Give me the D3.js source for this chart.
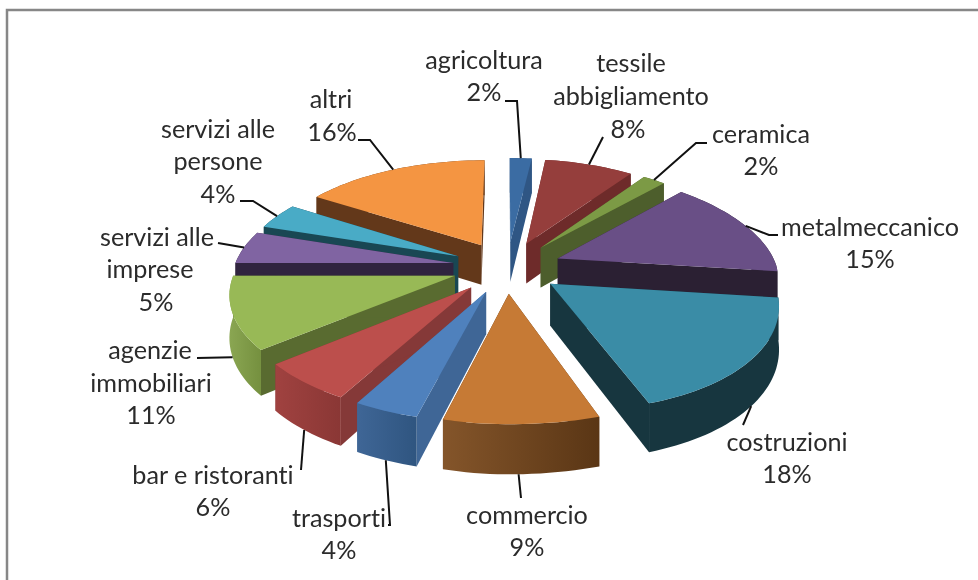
<!DOCTYPE html>
<html>
<head>
<meta charset="utf-8">
<script src="https://cdn.jsdelivr.net/npm/d3@7"></script>
<style>
  html, body { margin: 0; background: #fff; }
  svg { display: block; filter: blur(0.35px); }
  text { font-family: Lato, "Open Sans", sans-serif; font-size: 25.2px; fill: #2b2b2b; font-variant-ligatures: none; }
</style>
</head>
<body>
<div id="chart"></div>
<script>
const categories = [
  "agricoltura", "tessile abbigliamento", "ceramica", "metalmeccanico",
  "costruzioni", "commercio", "trasporti", "bar e ristoranti",
  "agenzie immobiliari", "servizi alle imprese", "servizi alle persone", "altri",
];
const values = [2, 8, 2, 15, 18, 9, 4, 6, 11, 5, 4, 16];

// top face, radial wall, outer wall left -> right
const topColors = ["#3b6ca3", "#953e3c", "#7c9a45", "#694f86", "#3a8ca6", "#c67a35",
  "#4f81bd", "#bc4f4c", "#98b956", "#8064a2", "#49abc6", "#f49542"];
const wallColors = ["#2f5684", "#6e2b2a", "#4d5e2c", "#2b2033", "#17363f", "#5f3a18",
  "#3f6696", "#853938", "#596b30", "#30243f", "#194753", "#63381a"];
const outerFrom = ["#2f5684", "#6e2b2a", "#4d5e2c", "#2b2033", "#17363f", "#84552a",
  "#3f6696", "#a04240", "#8aa652", "#30243f", "#194753", "#63381a"];
const outerTo = ["#2f5684", "#6e2b2a", "#4d5e2c", "#2b2033", "#17363f", "#5a3615",
  "#2f5580", "#8a3735", "#75903f", "#30243f", "#194753", "#63381a"];

// label lines with their centre x / baseline y, leader from the slice to the elbow points
const labelLayout = [
  { lines: [["agricoltura", 484, 69], ["2%", 484, 101]], leader: [[517, 101], [505, 101]], bottom: false },
  { lines: [["tessile", 631, 72], ["abbigliamento", 631, 105], ["8%", 628, 138]], leader: [[603, 137]], bottom: false },
  { lines: [["ceramica", 761, 143], ["2%", 761, 175]], leader: [[696, 143], [707, 143]], bottom: false },
  { lines: [["metalmeccanico", 870, 236], ["15%", 870, 268]], leader: [[769, 235], [778, 235]], bottom: false },
  { lines: [["costruzioni", 787, 451], ["18%", 787, 483]], leader: [[743, 425]], bottom: true },
  { lines: [["commercio", 527, 524], ["9%", 527, 556]], leader: [[521, 498]], bottom: true },
  { lines: [["trasporti", 339, 527], ["4%", 339, 559]], leader: [[390, 525], [388, 525]], bottom: true },
  { lines: [["bar e ristoranti", 213, 484], ["6%", 213, 516]], leader: [[301, 470]], bottom: true },
  { lines: [["agenzie", 150, 359], ["immobiliari", 151, 392], ["11%", 151, 424]], leader: [[197, 358]], bottom: true },
  { lines: [["servizi alle", 157, 246], ["imprese", 150, 278], ["5%", 156, 311]], leader: [[218, 243]], bottom: false },
  { lines: [["servizi alle", 218, 138], ["persone", 218, 170], ["4%", 218, 203]], leader: [[253, 201], [240, 201]], bottom: false },
  { lines: [["altri", 331, 108], ["16%", 332, 141]], leader: [[370, 140], [358, 140]], bottom: false },
];

const width = 978;
const height = 580;
const cx = 507;
const cy = 267;
const radiusX = 219;
const radiusY = 103;
const depth = 41;
const perspective = 0.145;
const explode = 0.25;

// disc coordinates -> screen, nearer points get bigger; the right half is slightly skewed in the original
function project(X, Y, z) {
  const s = 1 / (1 - perspective * Y);
  const skew = X > 0 ? (Y > 0 ? 18 * Math.min(X, 0.5) * Y * Y : 8 * X * Y) : 0;
  return [cx + radiusX * X * s + skew, cy + (radiusY * Y + depth * z) * s];
}

const arcs = d3.pie().sort(null).value((d) => d)(values).map((d, i) => {
  const mid = (d.startAngle + d.endAngle) / 2;
  return {
    i,
    a0: d.startAngle,
    a1: d.endAngle,
    mid,
    ox: explode * Math.sin(mid),
    oy: -explode * Math.cos(mid),
  };
});

function rim(d, a, z) {
  return project(d.ox + Math.sin(a), d.oy - Math.cos(a), z);
}
function apex(d, z) {
  return project(d.ox, d.oy, z);
}
function rimPoints(d, z) {
  const n = Math.max(4, Math.ceil((d.a1 - d.a0) / 0.03));
  return d3.range(n + 1).map((k) => rim(d, d.a0 + ((d.a1 - d.a0) * k) / n, z));
}

const path = d3.line();

const svg = d3.select("#chart").append("svg")
  .attr("width", width)
  .attr("height", height)
  .attr("viewBox", [0, 0, width, height]);

svg.append("path")
  .attr("d", path([[7, height], [7, 10], [width, 10]]))
  .attr("fill", "none")
  .attr("stroke", "#878787")
  .attr("stroke-width", 2.5);

const defs = svg.append("defs");
arcs.forEach((d) => {
  const g = defs.append("linearGradient").attr("id", `outer${d.i}`);
  g.append("stop").attr("offset", 0).attr("stop-color", outerFrom[d.i]);
  g.append("stop").attr("offset", 1).attr("stop-color", outerTo[d.i]);
});

// back slices first so the nearer ones cover their walls
const slices = svg.append("g")
  .selectAll("g")
  .data(arcs.slice().sort((a, b) => a.oy - b.oy))
  .join("g");

slices.each(function (d) {
  const g = d3.select(this);
  [d.a0, d.a1].forEach((a) => {
    g.append("path")
      .attr("d", path([apex(d, 0), rim(d, a, 0), rim(d, a, 1), apex(d, 1)]) + "Z")
      .attr("fill", wallColors[d.i]);
  });
  g.append("path")
    .attr("d", path([...rimPoints(d, 0), ...rimPoints(d, 1).reverse()]) + "Z")
    .attr("fill", `url(#outer${d.i})`);
  g.append("path")
    .attr("d", path([apex(d, 0), ...rimPoints(d, 0)]) + "Z")
    .attr("fill", topColors[d.i]);
});

const labels = svg.append("g");
arcs.forEach((d) => {
  const layout = labelLayout[d.i];
  labels.append("path")
    .attr("d", path([rim(d, d.mid, layout.bottom ? 1 : 0), ...layout.leader]))
    .attr("fill", "none")
    .attr("stroke", "#111")
    .attr("stroke-width", 2);
  layout.lines.forEach(([str, x, y]) => {
    labels.append("text")
      .attr("x", x)
      .attr("y", y)
      .attr("text-anchor", "middle")
      .text(str);
  });
});
</script>
</body>
</html>
